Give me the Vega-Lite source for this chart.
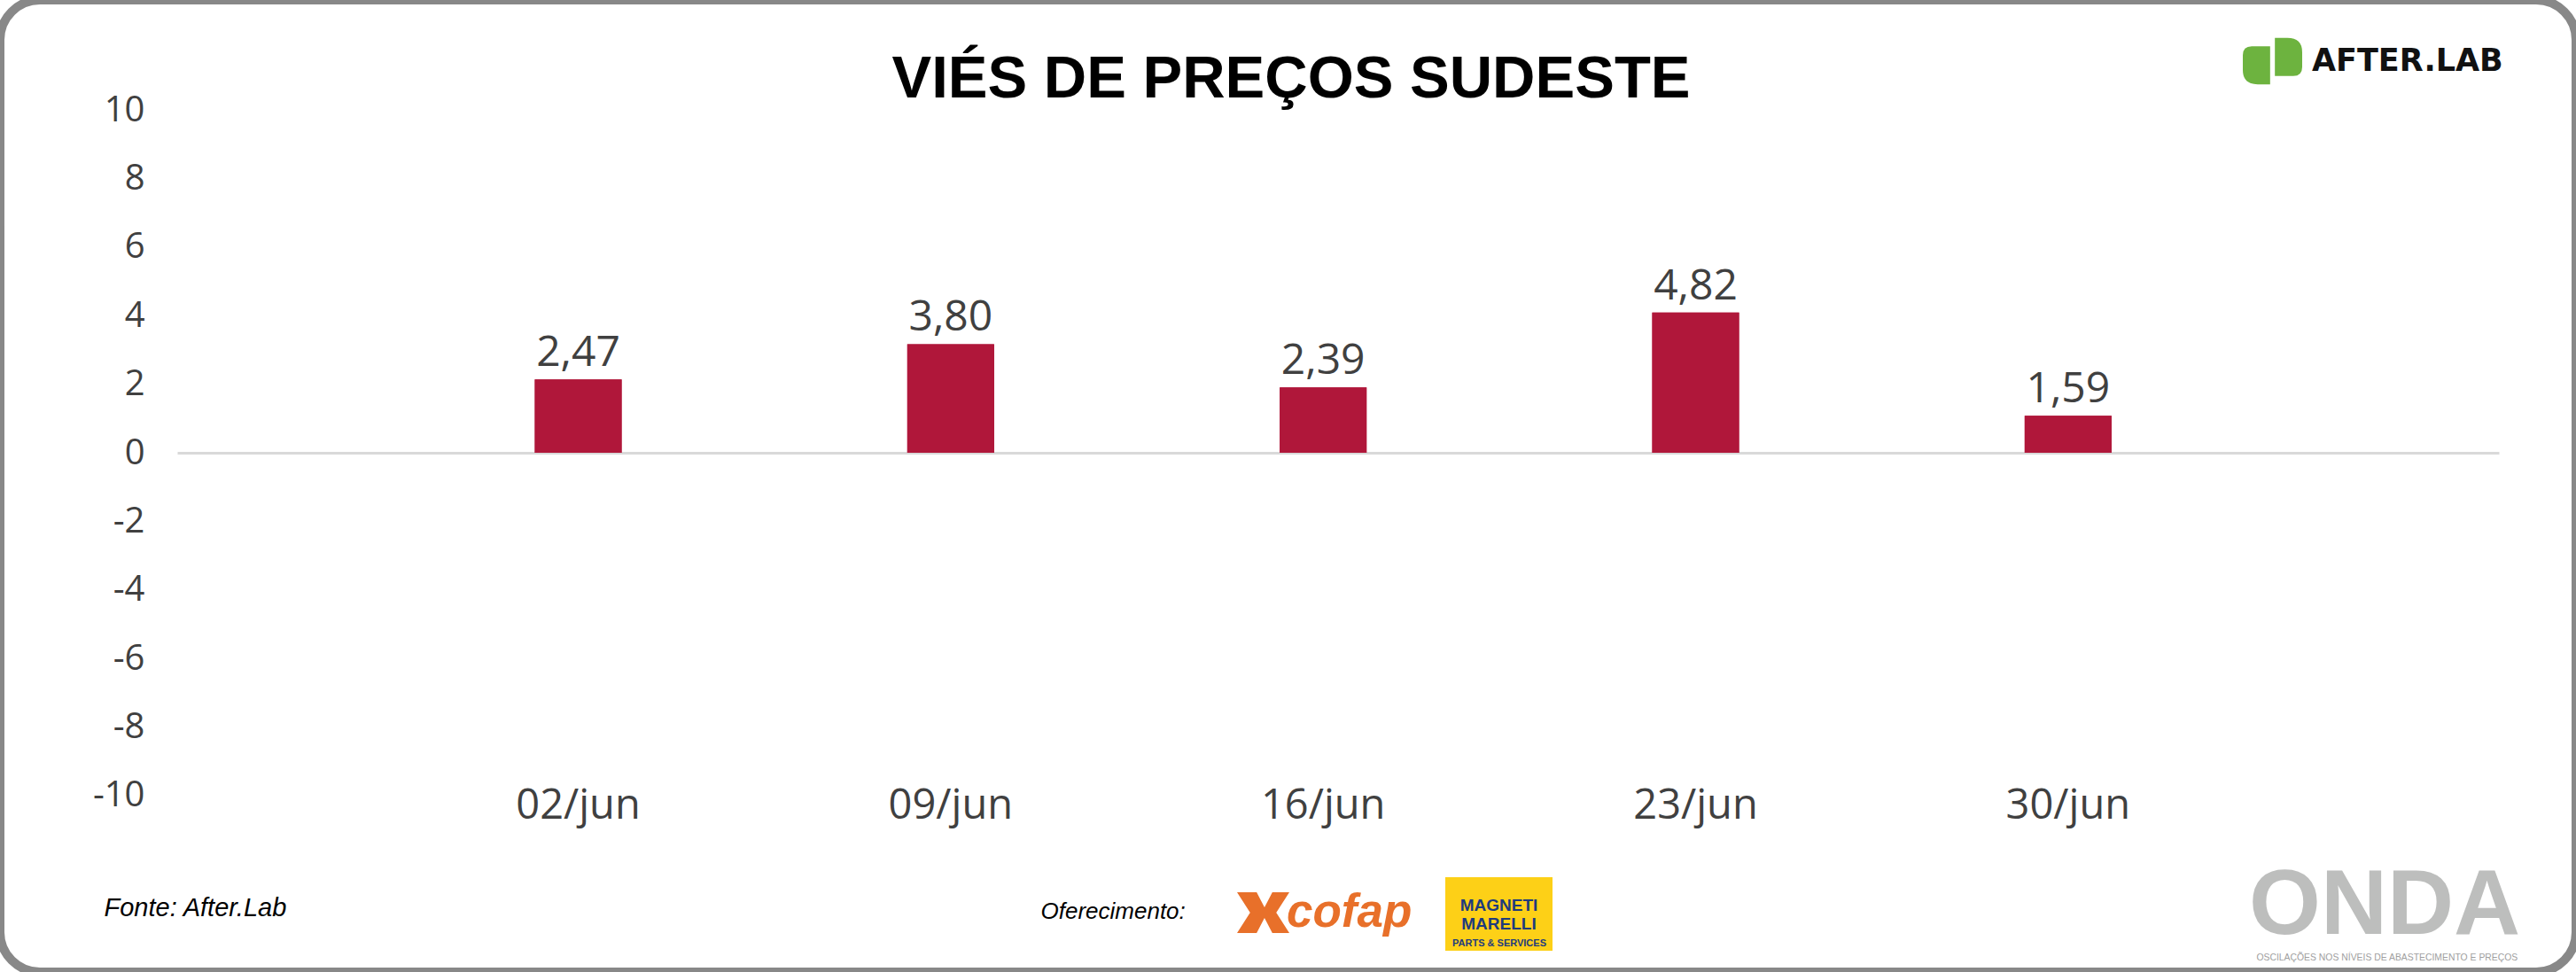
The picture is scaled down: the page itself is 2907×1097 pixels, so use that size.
{
  "$schema": "https://vega.github.io/schema/vega-lite/v6.json",
  "width": 2907,
  "height": 1097,
  "autosize": {"type": "none"},
  "padding": 0,
  "background": "white",
  "title": {
    "text": "VIÉS DE PREÇOS SUDESTE",
    "anchor": "middle",
    "frame": "group",
    "font": "Liberation Sans",
    "fontWeight": "bold",
    "fontSize": 67,
    "color": "#000000",
    "baseline": "alphabetic",
    "offset": 0,
    "dx": 3.5,
    "dy": 177
  },
  "config": {
    "view": {"stroke": "#888888", "strokeWidth": 10, "cornerRadius": 45, "fill": "white"},
    "locale": {"number": {"decimal": ",", "thousands": ".", "grouping": [3], "currency": ["R$", ""], "minus": "-"}}
  },
  "data": {
    "values": [
      {"semana": "02/jun", "barra": 2.14, "valor": 2.47},
      {"semana": "09/jun", "barra": 3.17, "valor": 3.80},
      {"semana": "16/jun", "barra": 1.91, "valor": 2.39},
      {"semana": "23/jun", "barra": 4.09, "valor": 4.82},
      {"semana": "30/jun", "barra": 1.08, "valor": 1.59}
    ]
  },
  "layer": [
    {
      "mark": {"type": "bar", "strokeWidth": 0},
      "encoding": {
        "x": {
          "field": "semana",
          "type": "ordinal",
          "sort": null,
          "scale": {"type": "band", "range": [200, 2820], "paddingInner": 0.7668, "paddingOuter": 1.0, "align": 0.48, "round": false},
          "axis": {
            "orient": "bottom",
            "offset": -586,
            "domain": true,
            "domainColor": "#D9D9D9",
            "domainWidth": 3,
            "ticks": false,
            "tickSize": 0,
            "grid": false,
            "labelPadding": 375,
            "labelFont": "Open Sans",
            "labelFontSize": 47,
            "labelColor": "#404040",
            "labelAngle": 0,
            "title": "Fonte: After.Lab",
            "titleX": 117,
            "titleY": 522,
            "titleAlign": "left",
            "titleAnchor": "start",
            "titleBaseline": "alphabetic",
            "titleFont": "Liberation Sans",
            "titleFontStyle": "italic",
            "titleFontWeight": "normal",
            "titleFontSize": 29,
            "titleColor": "#000000",
            "titleLimit": 1000
          }
        },
        "y": {
          "field": "barra",
          "type": "quantitative",
          "scale": {"domain": [-10, 10], "range": [897.7, 124.3], "nice": false, "zero": false},
          "axis": {
            "orient": "left",
            "offset": -163,
            "values": [-10, -8, -6, -4, -2, 0, 2, 4, 6, 8, 10],
            "domain": false,
            "ticks": false,
            "tickSize": 0,
            "grid": false,
            "labelPadding": 0,
            "labelFont": "Open Sans",
            "labelFontSize": 40,
            "labelColor": "#404040",
            "labelFlush": false,
            "labelOverlap": false,
            "title": "Oferecimento:",
            "titleX": 1011,
            "titleY": 1036,
            "titleAngle": 0,
            "titleAlign": "left",
            "titleAnchor": "start",
            "titleBaseline": "alphabetic",
            "titleFont": "Liberation Sans",
            "titleFontStyle": "italic",
            "titleFontWeight": "normal",
            "titleFontSize": 26,
            "titleColor": "#000000",
            "titleLimit": 1000
          }
        },
        "color": {
          "condition": {"test": "true", "value": "#B0173A"},
          "datum": "AFTER.LAB",
          "type": "nominal",
          "scale": {"domain": ["AFTER.LAB"], "range": ["#6DB33F"]},
          "legend": {
            "orient": "none",
            "legendX": 2531,
            "legendY": 35.5,
            "title": null,
            "padding": 0,
            "symbolType": "M -1 -0.2 Q -1 -0.5 -0.7 -0.5 L -0.08 -0.5 L -0.08 0.78 L -0.5 0.78 Q -1 0.78 -1 0.3 Z M 0.08 -0.78 L 0.5 -0.78 Q 1 -0.78 1 -0.3 L 1 0.2 Q 1 0.5 0.7 0.5 L 0.08 0.5 Z",
            "symbolSize": 4489,
            "symbolStrokeWidth": 0,
            "labelFont": "DejaVu Sans",
            "labelFontWeight": "bold",
            "labelFontSize": 35,
            "labelColor": "#111111",
            "labelOffset": 11,
            "labelLimit": 1000
          }
        },
        "opacity": {
          "datum": "OSCILAÇÕES NOS NÍVEIS DE ABASTECIMENTO E PREÇOS",
          "type": "ordinal",
          "scale": {"type": "point", "domain": ["OSCILAÇÕES NOS NÍVEIS DE ABASTECIMENTO E PREÇOS"], "range": [1, 1]},
          "legend": {
            "orient": "none",
            "legendX": 2538,
            "legendY": 972,
            "title": "ONDA",
            "titleFont": "Liberation Sans",
            "titleFontWeight": "bold",
            "titleFontSize": 104,
            "titleColor": "#BDBEBD",
            "titleBaseline": "top",
            "titleLimit": 1000,
            "titlePadding": 0,
            "padding": 0,
            "symbolSize": 0,
            "symbolOpacity": 0,
            "symbolStrokeWidth": 0,
            "labelFont": "Liberation Sans",
            "labelFontSize": 10.4,
            "labelColor": "#A0A0A0",
            "labelOffset": -2,
            "labelLimit": 1000
          }
        }
      }
    },
    {
      "mark": {"type": "bar", "strokeWidth": 0},
      "encoding": {
        "x": {"field": "semana", "type": "ordinal", "sort": null, "axis": null},
        "y": {"field": "barra", "type": "quantitative", "axis": null},
        "color": {
          "condition": {"test": "true", "value": "#B0173A"},
          "datum": "MAGNETI MARELLI",
          "type": "nominal",
          "scale": {"domain": ["MAGNETI MARELLI"], "range": ["#FDD017"]},
          "legend": {
            "orient": "none",
            "legendX": 1631,
            "legendY": 971,
            "title": null,
            "padding": 0,
            "symbolType": "M -1 -0.686 L 1 -0.686 L 1 0.686 L -1 0.686 Z",
            "symbolSize": 14641,
            "symbolStrokeWidth": 0,
            "labelExpr": "split(datum.label, ' ')",
            "labelAlign": "center",
            "labelBaseline": "bottom",
            "labelOffset": -60.5,
            "labelFont": "Liberation Sans",
            "labelFontWeight": "bold",
            "labelFontSize": 19,
            "labelColor": "#1F3B7D",
            "labelLimit": 1000
          }
        }
      }
    },
    {
      "mark": {"type": "text", "dy": -15, "baseline": "alphabetic", "align": "center", "font": "Open Sans", "fontSize": 48},
      "encoding": {
        "x": {"field": "semana", "type": "ordinal", "sort": null, "axis": null},
        "y": {
          "field": "barra",
          "type": "quantitative",
          "axis": {
            "orient": "right",
            "labels": false,
            "ticks": false,
            "domain": false,
            "grid": false,
            "title": "PARTS & SERVICES",
            "titleX": -1215.5,
            "titleY": 1067,
            "titleAngle": 0,
            "titleAlign": "center",
            "titleBaseline": "alphabetic",
            "titleFont": "Liberation Sans",
            "titleFontWeight": "bold",
            "titleFontSize": 11,
            "titleColor": "#1F3B7D",
            "titleLimit": 1000,
            "zindex": 1
          }
        },
        "text": {"field": "valor", "type": "quantitative", "format": ".2f"},
        "color": {
          "condition": {"test": "true", "value": "#404040"},
          "datum": "cofap",
          "type": "nominal",
          "scale": {"domain": ["cofap"], "range": ["#E8702A"]},
          "legend": {
            "orient": "none",
            "legendX": 1396,
            "legendY": 1000.5,
            "title": null,
            "padding": 0,
            "symbolType": "M -1 -0.78 L -0.25 -0.78 L 0.05 -0.2 L 0.35 -0.78 L 1 -0.78 L 0.5 0 L 1 0.78 L 0.35 0.78 L 0.05 0.2 L -0.25 0.78 L -1 0.78 L -0.5 0 Z",
            "symbolSize": 3481,
            "symbolStrokeWidth": 0,
            "labelFont": "Liberation Sans",
            "labelFontWeight": "bold",
            "labelFontStyle": "italic",
            "labelFontSize": 53,
            "labelColor": "#E8702A",
            "labelOffset": -3,
            "labelLimit": 1000
          }
        }
      }
    }
  ],
  "resolve": {"scale": {"color": "independent"}, "axis": {"x": "independent", "y": "independent"}}
}
